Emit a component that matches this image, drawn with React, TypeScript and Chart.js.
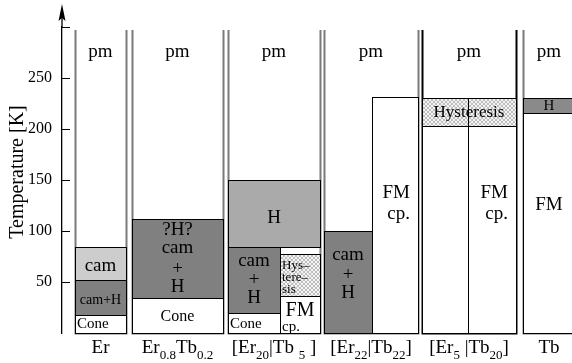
import React, { useEffect, useRef } from 'react';
import { Chart, registerables } from 'chart.js';

Chart.register(...registerables);

// ---------- DATA ----------
// Temperature axis (K)
const tempTicks = [0, 50, 100, 150, 200, 250, 300];
const tickLabels = ['', '50', '100', '150', '200', '250', ''];
const axisTitle = 'Temperature [K]';

// Compositions (x categories) as rich-text segments: [text, isSubscript]
const categories: [string, boolean][][] = [
  [['Er', false]],
  [['Er', false], ['0.8', true], ['Tb', false], ['0.2', true]],
  [['[Er', false], ['20', true], ['|Tb ', false], ['5', true], [' ]', false]],
  [['[Er', false], ['22', true], ['|Tb', false], ['22', true], [']', false]],
  [['[Er', false], ['5', true], [' |Tb', false], ['20', true], [']', false]],
  [['Tb', false]],
];

// Upper limit of each column (K) – above the phases everything is paramagnetic
const columnTop = [297, 297, 297, 297, 297, 297];
const pmLabel = 'pm';
const pmLevel = 275;

// Phase regions per column: [phase, lowK, highK, part of column]
type Region = [string, number, number, 'full' | 'left' | 'right'];
const erPhases: Region[] = [
  ['Cone', 0, 18, 'full'],
  ['cam+H', 18, 52, 'full'],
  ['cam', 52, 84, 'full'],
];
const er08Tb02Phases: Region[] = [
  ['Cone', 0, 34, 'full'],
  ['?H? cam + H', 34, 112, 'full'],
];
const er20Tb5Phases: Region[] = [
  ['Cone', 0, 20, 'left'],
  ['cam+H', 20, 84, 'left'],
  ['H', 84, 150, 'full'],
  ['FM cp.', 0, 36, 'right'],
  ['Hysteresis', 36, 77, 'right'],
];
const er22Tb22Phases: Region[] = [
  ['cam+H', 0, 100, 'left'],
  ['FM cp.', 0, 231, 'right'],
];
const er5Tb20Phases: Region[] = [
  ['FM', 0, 203, 'left'],
  ['FM cp.', 0, 203, 'right'],
  ['Hysteresis', 203, 230, 'full'],
];
const tbPhases: Region[] = [
  ['FM', 0, 216, 'full'],
  ['H', 216, 230, 'full'],
];
const columnPhases = [erPhases, er08Tb02Phases, er20Tb5Phases, er22Tb22Phases, er5Tb20Phases, tbPhases];

// Superlattice dividers: [column, fromK, toK]
const dividers: [number, number, number][] = [[4, 0, 230]];

// Text inside the regions: [text, column, part, centreK]
const regionTexts: [string, number, string, number][] = [
  ['cam', 0, 'full', 66],
  ['cam+H', 0, 'full', 32],
  ['Cone', 0, 'full', 8.5],
  ['?H?', 1, 'full', 101],
  ['cam', 1, 'full', 83],
  ['+', 1, 'full', 63],
  ['H', 1, 'full', 45],
  ['Cone', 1, 'full', 15.5],
  ['H', 2, 'full', 112.5],
  ['cam', 2, 'left', 71],
  ['+', 2, 'left', 52],
  ['H', 2, 'left', 34],
  ['Cone', 2, 'left', 8.5],
  ['Hys\u2013', 2, 'right', 66],
  ['tere\u2013', 2, 'right', 54],
  ['sis', 2, 'right', 42.5],
  ['FM', 2, 'right', 22],
  ['cp.', 2, 'right', 6],
  ['cam', 3, 'left', 76],
  ['+', 3, 'left', 57],
  ['H', 3, 'left', 39],
  ['FM', 3, 'right', 137],
  ['cp.', 3, 'right', 117],
  ['Hysteresis', 4, 'full', 216],
  ['FM', 4, 'right', 137],
  ['cp.', 4, 'right', 117],
  ['H', 5, 'full', 222],
  ['FM', 5, 'full', 125],
];

// ---------- LAYOUT / STYLE ----------
// Column extents along the (hidden) x axis
const columnLeft = [13, 70, 166, 262, 360, 461];
const columnSplit = [38, 115, 218, 310, 406, 487];
const columnRight = [64, 161, 258, 356, 454, 513];
const columnBorder = ['#7a7a7a', '#7a7a7a', '#7a7a7a', '#7a7a7a', '#000000', '#7a7a7a'];

const phaseFill: Record<string, string> = {
  Cone: '#ffffff',
  cam: '#cdcdcd',
  'cam+H': '#808080',
  '?H? cam + H': '#808080',
  H: '#aaaaaa',
  'FM cp.': '#ffffff',
  FM: '#ffffff',
  Hysteresis: 'hatch',
};
const fillOverride: Record<string, string> = { '5:H': '#8a8a8a' };

// text style per label: [size, align]
const textStyle = (t: string, col: number): [number, string] => {
  if (t === 'Cone') return col === 1 ? [16, 'center'] : [15, 'left'];
  if (t === 'cam+H') return [14, 'center'];
  if (t === 'Hys\u2013' || t === 'tere\u2013' || t === 'sis') return [13, 'left'];
  if (t === 'Hysteresis') return [17, 'center'];
  if (col === 5 && t === 'H') return [15, 'center'];
  if (col === 2 && t === 'cp.') return [15, 'left'];
  if (col === 2 && t === 'FM') return [20, 'center'];
  if ((col === 3 || col === 4) && (t === 'FM' || t === 'cp.')) return [19, 'right'];
  return [19, 'center'];
};

const SERIF = '"Liberation Serif", "Times New Roman", serif';

function makeHatch(ctx: CanvasRenderingContext2D) {
  const c = document.createElement('canvas');
  c.width = 4;
  c.height = 4;
  const g = c.getContext('2d')!;
  g.fillStyle = '#f4f4f4';
  g.fillRect(0, 0, 4, 4);
  g.strokeStyle = '#b0b0b0';
  g.lineWidth = 0.8;
  g.beginPath();
  g.moveTo(0, 0);
  g.lineTo(2, 2);
  g.lineTo(4, 0);
  g.moveTo(0, 4);
  g.lineTo(2, 2);
  g.lineTo(4, 4);
  g.stroke();
  return ctx.createPattern(c, 'repeat')!;
}

const diagramPlugin = {
  id: 'phaseDiagram',
  afterDatasetsDraw(chart: any) {
    const { ctx, scales, chartArea } = chart;
    const xs = scales.x;
    const ys = scales.y;
    const px = (v: number) => xs.getPixelForValue(v);
    const py = (v: number) => ys.getPixelForValue(v);
    const snap = (v: number) => Math.round(v) + 0.5;
    const hatch = makeHatch(ctx);

    ctx.save();
    const partX = (col: number, part: string): [number, number] => {
      if (part === 'left') return [px(columnLeft[col]), px(columnSplit[col])];
      if (part === 'right') return [px(columnSplit[col]), px(columnRight[col])];
      return [px(columnLeft[col]), px(columnRight[col])];
    };

    // Column frames
    columnPhases.forEach((_, col) => {
      const l = snap(px(columnLeft[col]));
      const r = snap(px(columnRight[col]));
      const top = py(columnTop[col]);
      const bot = snap(py(0));
      ctx.strokeStyle = columnBorder[col];
      ctx.lineWidth = 2;
      ctx.beginPath();
      ctx.moveTo(l, top);
      ctx.lineTo(l, bot);
      ctx.lineTo(r, bot);
      ctx.lineTo(r, top);
      ctx.stroke();
    });

    // Phase regions
    columnPhases.forEach((phases, col) => {
      phases.forEach(([name, lo, hi, part]) => {
        const [x0, x1] = partX(col, part);
        const l = snap(x0);
        const r = snap(x1);
        const t = snap(py(hi));
        const b = snap(py(lo));
        const f = fillOverride[`${col}:${name}`] || phaseFill[name];
        ctx.fillStyle = f === 'hatch' ? hatch : f;
        ctx.fillRect(l, t, r - l, b - t);
        ctx.strokeStyle = '#000';
        ctx.lineWidth = 1;
        ctx.strokeRect(l, t, r - l, b - t);
      });
    });

    dividers.forEach(([col, lo, hi]) => {
      const x = snap(px(columnSplit[col]));
      ctx.strokeStyle = '#000';
      ctx.lineWidth = 1;
      ctx.beginPath();
      ctx.moveTo(x, py(hi));
      ctx.lineTo(x, py(lo));
      ctx.stroke();
    });

    // Texts
    ctx.fillStyle = '#000';
    ctx.textBaseline = 'middle';
    columnPhases.forEach((_, col) => {
      const [x0, x1] = partX(col, 'full');
      ctx.font = `19px ${SERIF}`;
      ctx.textAlign = 'center';
      ctx.fillText(pmLabel, (x0 + x1) / 2, py(pmLevel));
    });
    regionTexts.forEach(([text, col, part, k]) => {
      const [size, align] = textStyle(text, col);
      const [x0, x1] = partX(col, part);
      ctx.font = `${size}px ${SERIF}`;
      ctx.textAlign = align as CanvasTextAlign;
      const x = align === 'left' ? x0 + 2 : align === 'right' ? x1 - 8 : (x0 + x1) / 2;
      ctx.fillText(text, x, py(k));
    });

    // Category labels with subscripts
    ctx.textBaseline = 'alphabetic';
    ctx.textAlign = 'left';
    const baseY = chartArea.bottom + 20;
    categories.forEach((segs, col) => {
      const [x0, x1] = partX(col, 'full');
      let w = 0;
      segs.forEach(([s, sub]) => {
        ctx.font = `${sub ? 13 : 19}px ${SERIF}`;
        w += ctx.measureText(s).width;
      });
      let x = (x0 + x1) / 2 - w / 2;
      segs.forEach(([s, sub]) => {
        ctx.font = `${sub ? 13 : 19}px ${SERIF}`;
        ctx.fillText(s, x, baseY + (sub ? 6 : 0));
        x += ctx.measureText(s).width;
      });
    });

    // Axis: inward ticks and arrow
    const ax = snap(chartArea.left) - 0.5;
    ctx.strokeStyle = '#000';
    ctx.lineWidth = 1;
    tempTicks.forEach((v) => {
      if (v === 0) return;
      const y = snap(py(v));
      ctx.beginPath();
      ctx.moveTo(ax, y);
      ctx.lineTo(ax + 8, y);
      ctx.stroke();
    });
    ctx.lineWidth = 1.3;
    ctx.beginPath();
    ctx.moveTo(ax, chartArea.top);
    ctx.lineTo(ax, 12);
    ctx.stroke();
    ctx.fillStyle = '#000';
    ctx.beginPath();
    ctx.moveTo(ax, 4);
    ctx.lineTo(ax + 3.5, 21);
    ctx.lineTo(ax, 18);
    ctx.lineTo(ax - 3.5, 21);
    ctx.closePath();
    ctx.fill();

    // Axis title
    ctx.font = `20px ${SERIF}`;
    ctx.textAlign = 'center';
    ctx.textBaseline = 'middle';
    ctx.translate(18, 172);
    ctx.rotate(-Math.PI / 2);
    ctx.fillText(axisTitle, 0, 0);
    ctx.restore();
  },
};

export default function App() {
  const ref = useRef<HTMLCanvasElement>(null);
  useEffect(() => {
    if (!ref.current) return;
    const chart = new Chart(ref.current, {
      type: 'scatter',
      data: { datasets: [{ data: [], showLine: false }] },
      options: {
        animation: false,
        responsive: true,
        maintainAspectRatio: false,
        events: [],
        layout: { padding: { top: 27, bottom: 30, left: 0, right: 0 } },
        plugins: { legend: { display: false }, tooltip: { enabled: false } },
        scales: {
          x: { type: 'linear', min: 0, max: 510, display: false },
          y: {
            type: 'linear',
            min: 0,
            max: 300,
            afterFit: (s: any) => {
              s.width = 62;
            },
            afterBuildTicks: (s: any) => {
              s.ticks = tempTicks.map((v) => ({ value: v }));
            },
            ticks: {
              color: '#000',
              padding: 10,
              font: { family: SERIF, size: 16 },
              callback: (v: any) => tickLabels[tempTicks.indexOf(Number(v))] ?? '',
            },
            grid: { display: true, drawOnChartArea: false, drawTicks: false },
            border: { display: true, color: '#000', width: 1.3 },
          },
        },
      },
      plugins: [diagramPlugin],
    });
    return () => chart.destroy();
  }, []);
  return (
    <div style={{ position: 'absolute', left: 0, top: 0, width: 572, height: 363, background: '#fff' }}>
      <canvas ref={ref} />
    </div>
  );
}
